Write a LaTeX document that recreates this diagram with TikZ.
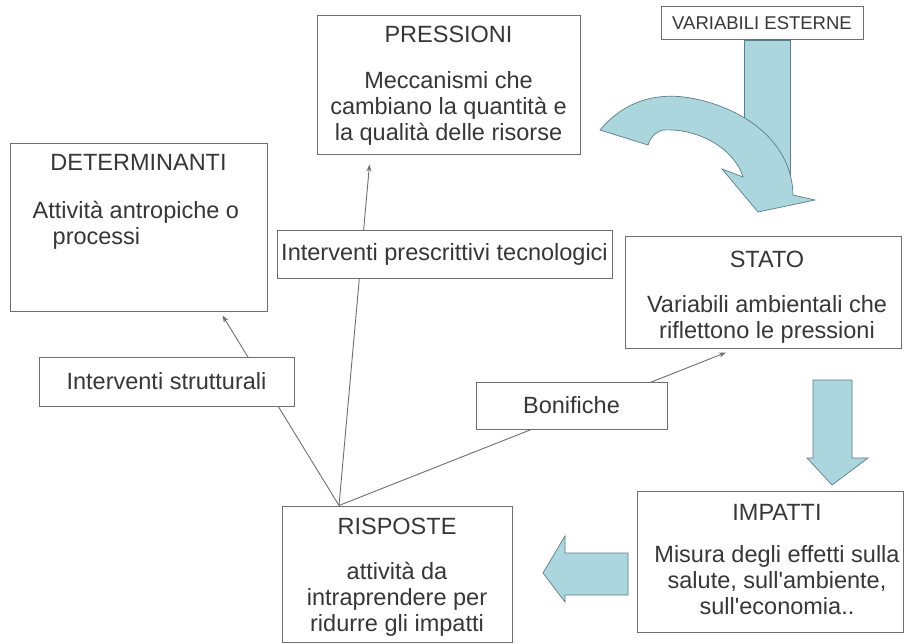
\documentclass[tikz,border=0pt]{standalone}
\usepackage{fontspec}
\setmainfont{Liberation Sans}
\usetikzlibrary{positioning,calc,arrows.meta}

\definecolor{boxgray}{RGB}{110,110,110}
\definecolor{textgray}{RGB}{55,55,55}
\definecolor{arrowblue}{RGB}{172,214,222}
\definecolor{arrowedge}{RGB}{95,125,135}

\newcommand{\bodysize}{\fontsize{23.5}{26}\selectfont}

\tikzset{
  box/.style={draw=boxgray, line width=1pt, fill=white, inner sep=0pt},
  txt/.style={inner sep=0pt, align=center, text=textgray, font=\bodysize},
  tag/.style={box, txt},
  link/.style={draw=boxgray, line width=0.9pt, -{Stealth[length=7pt,width=5pt]}},
  bigarrow/.style={fill=arrowblue, draw=arrowedge, line width=0.7pt}
}

\begin{document}
\begin{tikzpicture}[x=1pt,y=-1pt]
\useasboundingbox (0,0) rectangle (904,644);

% main boxes
\node[box, minimum width=257, minimum height=167] (det) at (138.5,227.5) {};
\node[box, minimum width=263, minimum height=139] (press) at (448.5,85.5) {};
\node[box, minimum width=276, minimum height=111] (stato) at (763,292.5) {};
\node[box, minimum width=266, minimum height=141] (imp) at (770,561.5) {};
\node[box, minimum width=230, minimum height=136] (risp) at (397,574) {};

% texts
\node[txt, below=10.6pt of det.north] (dethead) {DETERMINANTI};
\node[txt, align=left, anchor=north west] (detbody) at ($(det.north west)+(23,57)$)
  {Attività antropiche o\\\hspace*{20pt}processi};
\node[txt, below=10.6pt of press.north] (presstext)
  {PRESSIONI\\[20pt]Meccanismi che\\cambiano la quantità e\\la qualità delle risorse};
\node[txt, below=14.6pt of stato.north, xshift=4pt] (statotext)
  {STATO\\[19pt]Variabili ambientali che\\riflettono le pressioni};
\node[txt, below=13.6pt of imp.north, xshift=7pt] (imptext)
  {IMPATTI\\[16pt]Misura degli effetti sulla\\salute, sull\textquotesingle ambiente,\\sull\textquotesingle economia..};
\node[txt, below=12.6pt of risp.north] (risptext)
  {RISPOSTE\\[19pt]attività da\\intraprendere per\\ridurre gli impatti};

% responses
\coordinate (fork) at ($(risp.north)+(-58,0)$);
\coordinate (detTip) at ($(det.south)+(84,4)$);
\coordinate (pressTip) at ($(press.south)+(-79,9)$);
\coordinate (statoTip) at ($(stato.south)+(-37,4)$);
\draw[link] (fork) -- (detTip);
\draw[link] (fork) -- (pressTip);
\draw[link] (fork) -- (statoTip);

\node[tag, minimum width=335, minimum height=47] (tecno) at (444.5,254.5) {Interventi prescrittivi tecnologici};
\node[tag, minimum width=255, minimum height=49] (strut) at (166.5,381.5) {Interventi strutturali};
\node[tag, minimum width=191, minimum height=47] (bonif) at (571.5,405.5) {Bonifiche};
\node[tag, minimum width=202, minimum height=33, font=\fontsize{18.5}{22}\selectfont] (varest) at (762,23.5) {VARIABILI ESTERNE};

% block arrows
\filldraw[bigarrow] (744,40) rectangle (790,175);
\filldraw[bigarrow] (600,130) .. controls (625,100) and (660,90) .. (700,100)
  .. controls (750,112) and (792,145) .. (793,195) -- (815,200) -- (758,212)
  -- (722,169) -- (743,177) .. controls (735,150) and (700,128) .. (663,130)
  .. controls (655,132) and (650,138) .. (648,145) -- cycle;
\filldraw[bigarrow] (813,380) -- (852,380) -- (852,458) -- (868,458) -- (832,485)
  -- (807,458) -- (813,458) -- cycle;
\filldraw[bigarrow] (628,553) -- (628,595) -- (565,595) -- (565,602) -- (543,573)
  -- (565,536) -- (565,553) -- cycle;
\end{tikzpicture}
\end{document}
